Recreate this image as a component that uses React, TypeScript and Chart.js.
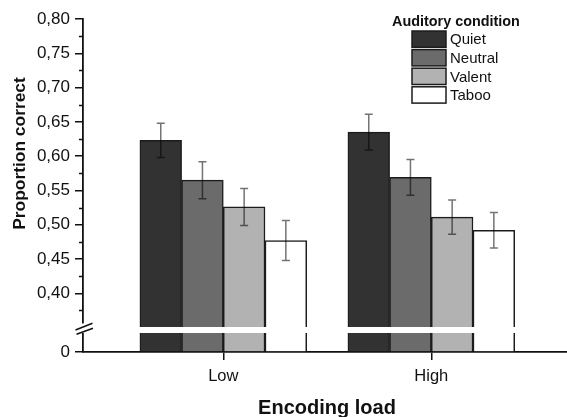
import React, { useEffect, useRef } from 'react';
import { Chart, registerables } from 'chart.js';

Chart.register(...registerables);

// ---- data ----
const categories = ['Low', 'High'];
const conditions = ['Quiet', 'Neutral', 'Valent', 'Taboo'];
const quiet = [0.623, 0.635];
const neutral = [0.565, 0.569];
const valent = [0.526, 0.511];
const taboo = [0.477, 0.492];
const quietErr = [0.025, 0.026];
const neutralErr = [0.027, 0.026];
const valentErr = [0.027, 0.025];
const tabooErr = [0.029, 0.026];
const yMajorTicks = [0.4, 0.45, 0.5, 0.55, 0.6, 0.65, 0.7, 0.75, 0.8];
const yMinorTicks = [0.375, 0.425, 0.475, 0.525, 0.575, 0.625, 0.675, 0.725, 0.775];
const legendTitle = 'Auditory condition';
const xTitle = 'Encoding load';
const yTitle = 'Proportion correct';

// ---- axis configuration ----
const Y_ZERO = 0.3144; // where the broken axis shows "0"
const Y_MAX = 0.8;
const Y_BREAK = 0.3465;
const X_MIN = -0.6745;
const X_MAX = 1.6524;

const series = [quiet, neutral, valent, taboo];
const errorSeries = [quietErr, neutralErr, valentErr, tabooErr];
const colors = ['#323232', '#6b6b6b', '#b2b2b2', '#ffffff'];
const FONT = "'Liberation Sans', Arial, Helvetica, sans-serif";
const INK = '#111111';

const errorBarPlugin = {
  id: 'errorBars',
  afterDatasetsDraw(chart: any) {
    const { ctx } = chart;
    const y = chart.scales.y;
    chart.data.datasets.forEach((ds: any, i: number) => {
      const meta = chart.getDatasetMeta(i);
      meta.data.forEach((bar: any, j: number) => {
        const v = series[i][j];
        const e = errorSeries[i][j];
        const top = y.getPixelForValue(v + e);
        const bot = y.getPixelForValue(v - e);
        ctx.save();
        ctx.strokeStyle = 'rgba(0,0,0,0.55)';
        ctx.lineWidth = 1.5;
        ctx.beginPath();
        ctx.moveTo(bar.x, top);
        ctx.lineTo(bar.x, bot);
        ctx.moveTo(bar.x - 4, top);
        ctx.lineTo(bar.x + 4, top);
        ctx.moveTo(bar.x - 4, bot);
        ctx.lineTo(bar.x + 4, bot);
        ctx.stroke();
        ctx.restore();
      });
    });
  },
};

const decorPlugin = {
  id: 'decor',
  afterDraw(chart: any) {
    const { ctx, chartArea } = chart;
    const y = chart.scales.y;
    const left = chartArea.left;
    ctx.save();
    // minor ticks
    ctx.strokeStyle = INK;
    ctx.lineWidth = 1.5;
    ctx.beginPath();
    yMinorTicks.forEach((v) => {
      const py = Math.round(y.getPixelForValue(v)) + 0.5;
      ctx.moveTo(left - 4, py);
      ctx.lineTo(left, py);
    });
    ctx.stroke();

    // axis break
    const by = y.getPixelForValue(Y_BREAK);
    ctx.fillStyle = '#ffffff';
    ctx.fillRect(left + 1, by - 3, chartArea.right - left, 6);
    ctx.fillRect(left - 3, by - 6.5, 7, 9.5);
    ctx.strokeStyle = INK;
    ctx.lineWidth = 1.5;
    ctx.beginPath();
    ctx.moveTo(left - 7.5, by);
    ctx.lineTo(left + 9.5, by - 6.7);
    ctx.moveTo(left - 6.5, by + 4.3);
    ctx.lineTo(left + 10, by - 1.7);
    ctx.stroke();

    // axis titles
    ctx.fillStyle = INK;
    ctx.font = `bold 20px ${FONT}`;
    ctx.textAlign = 'center';
    ctx.textBaseline = 'alphabetic';
    ctx.fillText(xTitle, 327, 414);

    ctx.save();
    ctx.translate(25, 153.5);
    ctx.rotate(-Math.PI / 2);
    ctx.font = `bold 17.4px ${FONT}`;
    ctx.fillText(yTitle, 0, 0);
    ctx.restore();

    // legend
    ctx.textAlign = 'left';
    ctx.font = `bold 14.4px ${FONT}`;
    ctx.fillText(legendTitle, 392, 25.7);
    ctx.font = `15px ${FONT}`;
    chart.data.datasets.forEach((ds: any, i: number) => {
      const top = 31 + i * 18.6;
      ctx.fillStyle = ds.backgroundColor;
      ctx.fillRect(412, top, 34, 16.3);
      ctx.strokeStyle = '#1c1c1c';
      ctx.lineWidth = 1.5;
      ctx.strokeRect(412, top, 34, 16.3);
      ctx.fillStyle = INK;
      ctx.fillText(ds.label, 450, top + 13.3);
    });
    ctx.restore();
  },
};

export default function App() {
  const ref = useRef<HTMLCanvasElement>(null);
  useEffect(() => {
    const canvas = ref.current;
    if (!canvas) return;
    const chart = new Chart(canvas, {
      type: 'bar',
      data: {
        datasets: conditions.map((name, i) => ({
          label: name,
          data: categories.map((_, j) => ({ x: j, y: series[i][j] })),
          backgroundColor: colors[i],
          borderColor: '#1c1c1c',
          borderWidth: 1.5,
          borderSkipped: 'start',
          barThickness: 41.7,
          base: Y_ZERO,
        })),
      } as any,
      options: {
        responsive: false,
        animation: false,
        events: [],
        layout: { padding: { top: 19, left: 0, right: 0, bottom: 0 } },
        plugins: { legend: { display: false }, tooltip: { enabled: false } },
        scales: {
          x: {
            type: 'linear',
            min: X_MIN,
            max: X_MAX,
            offset: false,
            afterBuildTicks: (s: any) => {
              s.ticks = categories.map((_, i) => ({ value: i }));
            },
            afterFit: (s: any) => {
              s.height = 65;
            },
            ticks: {
              callback: (v: any) => categories[v] ?? '',
              font: { family: FONT, size: 16.5 },
              color: INK,
              padding: 7,
              autoSkip: false,
              maxRotation: 0,
            },
            grid: {
              offset: false,
              drawOnChartArea: false,
              drawTicks: true,
              tickLength: 8,
              color: INK,
              lineWidth: 1.5,
            },
            border: { display: true, color: INK, width: 1.8 },
          },
          y: {
            type: 'linear',
            min: Y_ZERO,
            max: Y_MAX,
            afterBuildTicks: (s: any) => {
              s.ticks = [Y_ZERO, ...yMajorTicks].map((v) => ({ value: v }));
            },
            afterFit: (s: any) => {
              s.width = 83;
            },
            ticks: {
              callback: (v: any) => (v === Y_ZERO ? '0' : Number(v).toFixed(2).replace('.', ',')),
              font: { family: FONT, size: 17 },
              color: INK,
              padding: 5,
              autoSkip: false,
            },
            grid: {
              drawOnChartArea: false,
              drawTicks: true,
              tickLength: 8,
              color: INK,
              lineWidth: 1.5,
            },
            border: { display: true, color: INK, width: 1.8 },
          },
        },
      } as any,
      plugins: [errorBarPlugin, decorPlugin],
    });
    return () => chart.destroy();
  }, []);
  return (
    <div style={{ position: 'absolute', left: 0, top: 0, width: 567, height: 417, background: '#ffffff' }}>
      <canvas ref={ref} width={567} height={417} style={{ display: 'block' }} />
    </div>
  );
}
